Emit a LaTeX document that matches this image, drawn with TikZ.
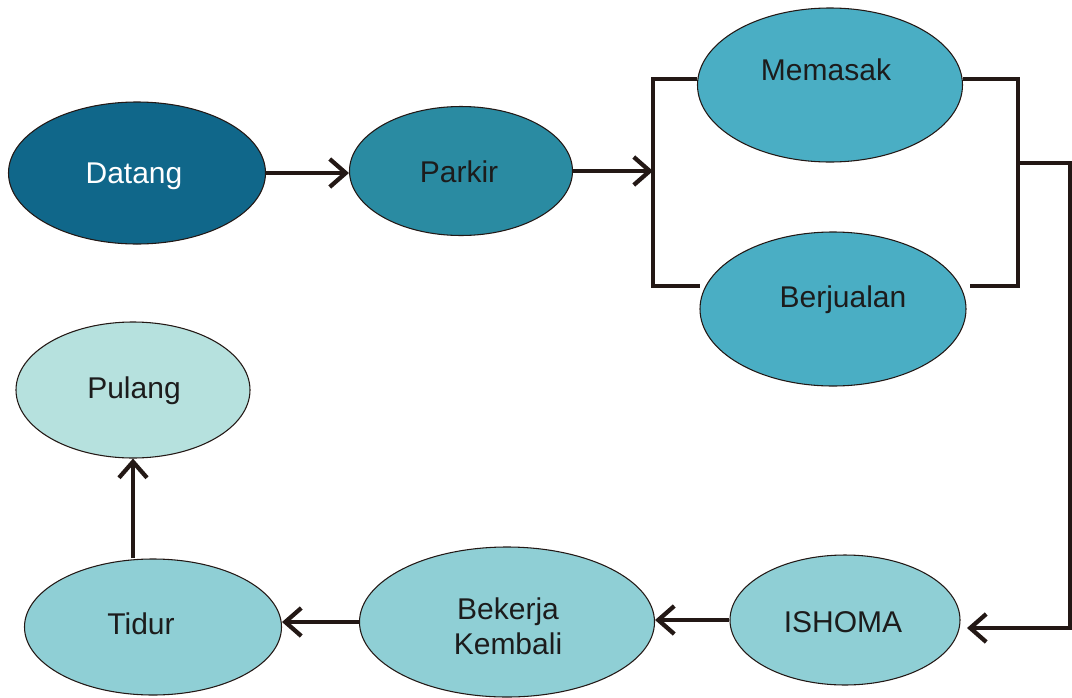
\documentclass[tikz,border=0pt]{standalone}
\usepackage{fontspec}
\setmainfont{Liberation Sans}
\usetikzlibrary{shapes.geometric,arrows.meta}
\definecolor{cDatang}{HTML}{10678A}
\definecolor{cParkir}{HTML}{2A8BA2}
\definecolor{cMid}{HTML}{4AAEC4}
\definecolor{cLow}{HTML}{8FCFD5}
\definecolor{cPulang}{HTML}{B6E1DE}
\definecolor{cText}{HTML}{1C1C1C}
\definecolor{cLine}{HTML}{231815}
\tikzset{
  oval/.style={ellipse, draw=cLine, line width=0.8pt, inner sep=0pt},
  lbl/.style={font=\fontsize{22.5}{26}\selectfont, text=cText, align=center, inner sep=0pt},
  flow/.style={line width=3.2pt, draw=cLine, -{Straight Barb[length=12pt,width=21pt,line width=3.2pt]}},
  brk/.style={line width=2.8pt, draw=cLine}
}
\begin{document}
\begin{tikzpicture}[x=0.75pt,y=-0.75pt]
\useasboundingbox (0,0) rectangle (1072,697);
% ellipses
\node[oval, fill=cDatang, minimum width=257*0.75pt, minimum height=142*0.75pt] (datang) at (137,173) {};
\node[oval, fill=cParkir, minimum width=223*0.75pt, minimum height=129*0.75pt] (parkir) at (461,171) {};
\node[oval, fill=cMid, minimum width=265*0.75pt, minimum height=154*0.75pt] (memasak) at (830,85) {};
\node[oval, fill=cMid, minimum width=266*0.75pt, minimum height=154*0.75pt] (berjualan) at (833,309) {};
\node[oval, fill=cLow, minimum width=230*0.75pt, minimum height=130*0.75pt] (ishoma) at (845,620) {};
\node[oval, fill=cLow, minimum width=295*0.75pt, minimum height=150*0.75pt] (bekerja) at (507,622) {};
\node[oval, fill=cLow, minimum width=257*0.75pt, minimum height=136*0.75pt] (tidur) at (153,627) {};
\node[oval, fill=cPulang, minimum width=234*0.75pt, minimum height=136*0.75pt] (pulang) at (133,390) {};
% labels
\node[lbl, text=white] (tDatang) at (134,176) {Datang};
\node[lbl] (tParkir) at (459,172) {Parkir};
\node[lbl] (tMemasak) at (826,70) {Memasak};
\node[lbl] (tBerjualan) at (843,300) {Berjualan};
\node[lbl] (tIshoma) at (843,622) {ISHOMA};
\node[lbl] (tBekerja) at (508,626) {Bekerja\\Kembali};
\node[lbl] (tTidur) at (141,624) {Tidur};
\node[lbl] (tPulang) at (134,391) {Pulang};
% bracket coordinates
\coordinate (bl) at (653,171);
\coordinate (bltop) at (653,79);
\coordinate (blbot) at (653,286);
\coordinate (blend) at (700,286);
\coordinate (brtop) at (1018,79);
\coordinate (brbot) at (1018,286);
\coordinate (brstart) at (970,286);
\coordinate (brmid) at (1018,163);
\coordinate (edge1) at (1070,163);
\coordinate (edge2) at (1070,628);
\coordinate (ishin) at (967,628);
% connectors
\draw[flow] (datang.east) -- (datang.east -| parkir.west);
\draw[flow] (parkir.east) -- (bl);
\draw[brk] (memasak.west |- bltop) -- (bltop) -- (blbot) -- (blend);
\draw[brk] (memasak.east |- brtop) -- (brtop) -- (brbot) -- (brstart);
\draw[brk] (brmid) -- (edge1) -- (edge2) -- ++(-20,0);
\draw[flow] (edge2) -- (ishin);
\draw[flow] (ishoma.west) -- (ishoma.west -| bekerja.east);
\draw[flow] (bekerja.west) -- (bekerja.west -| tidur.east);
\draw[flow] (tidur.north -| pulang.south) -- (pulang.south);
\end{tikzpicture}
\end{document}
